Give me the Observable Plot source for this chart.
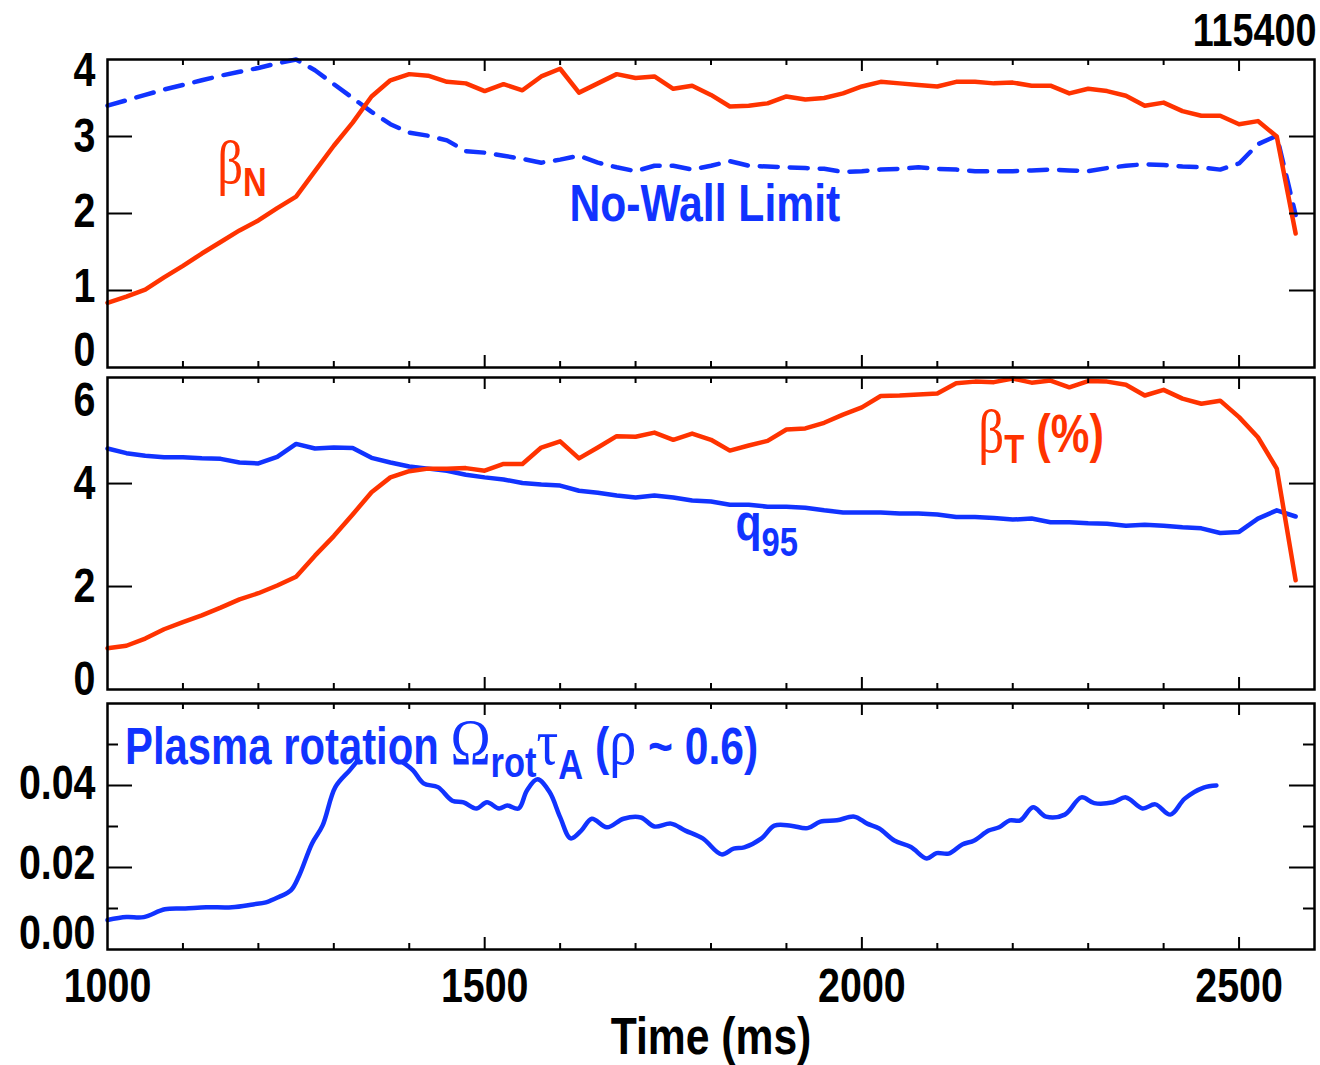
<!DOCTYPE html>
<html><head><meta charset="utf-8">
<script src="https://cdn.jsdelivr.net/npm/d3@7"></script>
<script src="https://cdn.jsdelivr.net/npm/@observablehq/plot@0.6"></script>
<style>
body{margin:0;background:#fff;}
#chart{position:relative;width:1320px;height:1065px;background:#fff;}
#chart svg{position:absolute;left:0;overflow:visible;}
</style></head><body><div id="chart"></div>
<script>
// ---------- data ----------
const tSample = [1000,1025,1050,1075,1100,1125,1150,1175,1200,1225,1250,1275,1300,1325,1350,1375,1400,1425,1450,1475,1500,1525,1550,1575,1600,1625,1650,1675,1700,1725,1750,1775,1800,1825,1850,1875,1900,1925,1950,1975,2000,2025,2050,2075,2100,2125,2150,2175,2200,2225,2250,2275,2300,2325,2350,2375,2400,2425,2450,2475,2500,2525,2550,2575];
const betaN = [0.84,0.92,1.01,1.17,1.32,1.48,1.63,1.78,1.91,2.07,2.22,2.55,2.88,3.18,3.52,3.73,3.81,3.79,3.71,3.69,3.59,3.68,3.60,3.78,3.88,3.57,3.69,3.81,3.76,3.78,3.62,3.66,3.54,3.39,3.40,3.43,3.52,3.48,3.50,3.56,3.65,3.71,3.69,3.67,3.65,3.71,3.71,3.69,3.70,3.66,3.66,3.56,3.62,3.59,3.53,3.40,3.44,3.33,3.27,3.27,3.16,3.20,3.00,1.74];
const noWall = [3.40,3.47,3.54,3.61,3.67,3.73,3.79,3.84,3.89,3.95,4.00,3.86,3.68,3.50,3.32,3.16,3.05,3.01,2.95,2.81,2.79,2.75,2.71,2.66,2.70,2.75,2.66,2.60,2.55,2.62,2.62,2.57,2.62,2.68,2.62,2.61,2.60,2.59,2.58,2.54,2.55,2.57,2.58,2.60,2.58,2.57,2.55,2.55,2.55,2.56,2.57,2.56,2.55,2.59,2.62,2.64,2.63,2.61,2.60,2.57,2.65,2.90,3.01,1.98];
const betaT = [0.80,0.85,0.99,1.17,1.31,1.44,1.59,1.75,1.87,2.02,2.19,2.60,2.98,3.40,3.83,4.12,4.24,4.29,4.29,4.30,4.25,4.38,4.38,4.70,4.82,4.49,4.70,4.92,4.91,4.99,4.85,4.97,4.85,4.64,4.74,4.83,5.05,5.07,5.18,5.34,5.48,5.70,5.71,5.73,5.75,5.95,5.98,5.97,6.04,5.96,6.00,5.87,5.99,5.98,5.92,5.71,5.82,5.65,5.55,5.61,5.29,4.90,4.29,2.12];
const q95 = [4.68,4.59,4.54,4.51,4.51,4.49,4.48,4.41,4.39,4.52,4.77,4.68,4.70,4.69,4.50,4.41,4.33,4.29,4.25,4.17,4.12,4.08,4.01,3.98,3.96,3.86,3.82,3.77,3.73,3.77,3.73,3.67,3.65,3.59,3.59,3.55,3.55,3.53,3.48,3.44,3.44,3.44,3.42,3.42,3.40,3.35,3.35,3.33,3.30,3.32,3.25,3.25,3.23,3.22,3.18,3.20,3.18,3.15,3.13,3.04,3.06,3.32,3.48,3.36];
// plasma rotation (hidden under the label between ~1330 and ~1390 ms)
const tRot = [1000,1025,1048,1076,1103,1131,1165,1193,1210,1227,1243,1254,1271,1285,1302,1321,1330,1360,1391,1405,1419,1438,1457,1472,1489,1503,1519,1530,1545,1556,1570,1586,1600,1614,1628,1642,1662,1684,1707,1725,1747,1766,1789,1814,1830,1844,1867,1884,1906,1928,1945,1967,1990,2007,2023,2043,2065,2086,2099,2115,2133,2149,2168,2182,2196,2210,2227,2244,2269,2291,2308,2333,2350,2372,2389,2409,2428,2453,2470];
const rot = [0.0072,0.0079,0.0079,0.0098,0.0100,0.0103,0.0103,0.0110,0.0115,0.0128,0.0144,0.0180,0.0258,0.0302,0.0396,0.0437,0.0457,null,0.0457,0.0437,0.0405,0.0396,0.0363,0.0359,0.0344,0.0359,0.0344,0.0351,0.0344,0.0388,0.0415,0.0384,0.0323,0.0271,0.0290,0.0319,0.0298,0.0319,0.0322,0.0300,0.0307,0.0290,0.0271,0.0232,0.0246,0.0249,0.0271,0.0302,0.0302,0.0296,0.0312,0.0315,0.0324,0.0307,0.0295,0.0266,0.0250,0.0222,0.0235,0.0234,0.0256,0.0266,0.0290,0.0298,0.0315,0.0315,0.0347,0.0324,0.0329,0.0371,0.0357,0.0359,0.0371,0.0344,0.0354,0.0329,0.0368,0.0395,0.0400];

const xMajorTicks = [1500,2000,2500];
const xMinorTicks = [1100,1200,1300,1400,1600,1700,1800,1900,2100,2200,2300,2400];
const xTickLabels = [1000,1500,2000,2500];
const y1Ticks = [1,2,3];
const y1Labels = [0,1,2,3,4];
const y2Ticks = [2,4];
const y2Labels = [0,2,4,6];
const y3Major = [0.02,0.04];
const y3Minor = [0.01,0.03,0.05];
const y3Labels = [0,0.02,0.04];
const shotNumber = "115400";

// ---------- style ----------
const SANS = '"Liberation Sans",Arial,Helvetica,sans-serif';
const SERIF = '"Liberation Serif","DejaVu Serif",serif';
const NARROW = 0.82;
const RED = "#ff3300", BLUE = "#1133ff";
const W = 1320, ML = 107, MR = 6, PW = W - ML - MR;

const tbl = (ys) => tSample.map((t, i) => ({t, v: ys[i]}));
const rotData = tRot.map((t, i) => ({t, v: rot[i]}));

function frameMarks(PH, yMajor, yMinor, majorLen, minorLen) {
  const m = [];
  const tk = {stroke: "black", strokeWidth: 2};
  m.push(Plot.tickY(yMajor, {...tk, insetRight: PW - majorLen}));
  m.push(Plot.tickY(yMajor, {...tk, insetLeft: PW - majorLen}));
  if (yMinor) {
    m.push(Plot.tickY(yMinor, {...tk, insetRight: PW - minorLen}));
    m.push(Plot.tickY(yMinor, {...tk, insetLeft: PW - minorLen}));
  }
  m.push(Plot.tickX(xMinorTicks, {...tk, insetBottom: PH - 6}));
  m.push(Plot.tickX(xMinorTicks, {...tk, insetTop: PH - 6}));
  m.push(Plot.tickX(xMajorTicks, {...tk, insetBottom: PH - 12}));
  m.push(Plot.tickX(xMajorTicks, {...tk, insetTop: PH - 12}));
  m.push(Plot.frame({stroke: "black", strokeWidth: 2.5}));
  return m;
}
function yLabelMarks(labels, fmt, dys) {
  return labels.map((v, i) => Plot.text([v], {y: d => d, text: d => fmt(d), frameAnchor: "left", lineAnchor: "middle", textAnchor: "end", dx: -12, dy: dys[i], fontSize: 48, fill: "black"}));
}
function addRich(svg, plot, xv, yv, parts, color) {
  const sx = plot.scale("x"), sy = plot.scale("y");
  const t = d3.select(svg).append("text")
    .attr("class", "rich")
    .attr("text-anchor", "start")
    .attr("transform", `translate(${sx.apply(xv)},${sy.apply(yv)}) scale(${NARROW},1)`)
    .attr("fill", color);
  let shift = 0;
  for (const p of parts) {
    const dy = (p.sub || 0) - shift;
    shift = p.sub || 0;
    t.append("tspan").text(p.s)
      .attr("dy", dy)
      .attr("font-family", p.serif ? SERIF : SANS)
      .attr("font-weight", p.serif ? "normal" : "bold")
      .attr("font-size", p.size);
  }
}
const baseStyle = {fontFamily: SANS, fontWeight: "bold", background: "transparent", overflow: "visible"};

const chart = document.getElementById("chart");
function place(svg, top) { svg.style.top = top + "px"; chart.appendChild(svg); }

// ---------- panel 1 ----------
const PH1 = 308;
const p1 = Plot.plot({
  width: W, height: 59 + PH1 + 6, marginLeft: ML, marginRight: MR, marginTop: 59, marginBottom: 6,
  x: {domain: [1000, 2600], axis: null},
  y: {domain: [0, 4], axis: null},
  style: baseStyle,
  marks: [
    Plot.line(tbl(noWall), {x: "t", y: "v", stroke: BLUE, strokeWidth: 4.5, strokeDasharray: "18,12"}),
    Plot.line(tbl(betaN), {x: "t", y: "v", stroke: RED, strokeWidth: 4.5}),
    ...frameMarks(PH1, y1Ticks, null, 25, 11),
    ...yLabelMarks(y1Labels, d => String(d), [-17, -4, -2, 0, 11]),
    Plot.text([shotNumber], {text: d => d, frameAnchor: "top-right", lineAnchor: "middle", textAnchor: "end", dx: 2, dy: -28, fontSize: 46, fill: "black"})
  ]
});
addRich(p1, p1, 1146, 2.39, [{s: "β", serif: true, size: 62}, {s: "N", size: 40, sub: 13}], RED);
addRich(p1, p1, 1613, 1.90, [{s: "No-Wall Limit", size: 52}], BLUE);
place(p1, 0);

// ---------- panel 2 ----------
const PH2 = 312;
const p2 = Plot.plot({
  width: W, height: 37 + PH2 + 6, marginLeft: ML, marginRight: MR, marginTop: 37, marginBottom: 6,
  x: {domain: [1000, 2600], axis: null},
  y: {domain: [0, 6.06], axis: null},
  style: baseStyle,
  marks: [
    Plot.line(tbl(q95), {x: "t", y: "v", stroke: BLUE, strokeWidth: 4.5}),
    Plot.line(tbl(betaT), {x: "t", y: "v", stroke: RED, strokeWidth: 4.5}),
    ...frameMarks(PH2, y2Ticks, null, 25, 11),
    ...yLabelMarks(y2Labels, d => String(d), [-10, 0, 0, 20])
  ]
});
addRich(p2, p2, 2155, 4.60, [{s: "β", serif: true, size: 62}, {s: "T", size: 40, sub: 11}, {s: " (%)", size: 53}], RED);
addRich(p2, p2, 1833, 2.90, [{s: "q", size: 52}, {s: "95", size: 40, sub: 16}], BLUE);
place(p2, 340);

// ---------- panel 3 ----------
const PH3 = 246;
const p3 = Plot.plot({
  width: W, height: 375, marginLeft: ML, marginRight: MR, marginTop: 13, marginBottom: 116,
  x: {domain: [1000, 2600], axis: null},
  y: {domain: [0, 0.06], axis: null},
  style: baseStyle,
  marks: [
    Plot.line(rotData, {x: "t", y: "v", stroke: BLUE, strokeWidth: 4.5, curve: "catmull-rom"}),
    ...frameMarks(PH3, y3Major, y3Minor, 25, 11),
    ...yLabelMarks(y3Labels, d => d.toFixed(2), [-16, -4, -2]),
    Plot.text(xTickLabels, {x: d => d, text: d => String(d), frameAnchor: "bottom", lineAnchor: "top", dy: 18, fontSize: 48, fill: "black"}),
    Plot.text(["Time (ms)"], {text: d => d, frameAnchor: "bottom", lineAnchor: "middle", dy: 88, fontSize: 52, fill: "black"})
  ]
});
addRich(p3, p3, 1024, 0.0451, [
  {s: "Plasma rotation ", size: 51},
  {s: "Ω", serif: true, size: 66},
  {s: "rot", size: 42, sub: 13},
  {s: "τ", serif: true, size: 66},
  {s: "A", size: 42, sub: 15},
  {s: " (", size: 52},
  {s: "ρ", serif: true, size: 66},
  {s: " ~ 0.6)", size: 52}
], BLUE);
place(p3, 690);

// condense the plain labels to a narrow sans face
chart.querySelectorAll("text:not(.rich)").forEach(t => {
  const L = t.getComputedTextLength();
  if (L > 0) {
    t.setAttribute("textLength", (L * NARROW).toFixed(1));
    t.setAttribute("lengthAdjust", "spacingAndGlyphs");
  }
});
</script></body></html>
